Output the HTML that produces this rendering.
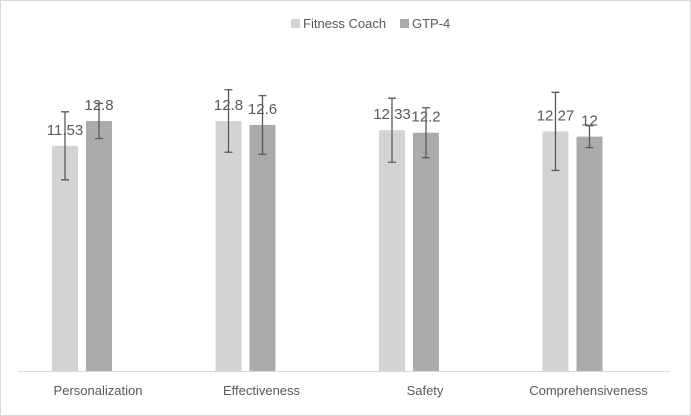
<!DOCTYPE html>
<html><head><meta charset="utf-8"><style>
body{margin:0;background:#fff;}
svg{display:block;font-family:"Liberation Sans",sans-serif;}
</style></head><body>
<svg width="691" height="416">
<rect x="0.5" y="0.5" width="690" height="415" fill="#fff" stroke="#d9d9d9"/>
<g>
<rect x="291" y="19" width="9" height="9" fill="#d3d3d3"/>
<text x="303" y="28" font-size="13" fill="#595959">Fitness Coach</text>
<rect x="400" y="19" width="9" height="9" fill="#ababab"/>
<text x="412" y="28" font-size="13" fill="#595959">GTP-4</text>
</g>
<line x1="18" y1="371.5" x2="670" y2="371.5" stroke="#d9d9d9"/>
<g id="marks"></g>
</svg>
<script>
const categories=["Personalization","Effectiveness","Safety","Comprehensiveness"];
const coachValues=[11.53,12.8,12.33,12.27];
const gtpValues=[12.8,12.6,12.2,12];
const coachErr=[1.74,1.6,1.64,2.0];
const gtpErr=[0.9,1.5,1.28,0.56];
const labelsCoach=["11.53","12.8","12.33","12.27"];
const labelsGtp=["12.8","12.6","12.2","12"];
const NS="http://www.w3.org/2000/svg";
const g=document.getElementById('marks');
const y=v=>371-v*19.53;
const cx=i=>82+i*163.5;
function mk(t,a){const e=document.createElementNS(NS,t);for(const k in a)e.setAttribute(k,a[k]);g.appendChild(e);return e;}
categories.forEach((c,i)=>{
 const series=[[coachValues,coachErr,labelsCoach,"#d3d3d3",-30,"coach"],[gtpValues,gtpErr,labelsGtp,"#ababab",4,"gtp4"]];
 series.forEach(s=>{
  const v=s[0][i],x=cx(i)+s[4];
  const b=mk('rect',{x:x,y:y(v),width:26,height:371-y(v),fill:s[3]});
  
  
  const mx=x+13,t=y(v+s[1][i]),bt=y(v-s[1][i]);
  const eb=mk('path',{d:`M${mx},${t}V${bt}M${mx-4},${t}H${mx+4}M${mx-4},${bt}H${mx+4}`,stroke:'#595959','stroke-width':1.3,fill:'none'});
  
  
  const tx=mk('text',{x:mx,y:y(v)-11,'font-size':15,fill:'#595959','text-anchor':'middle'});
  tx.textContent=s[2][i];
  
  
 });
 const l=mk('text',{x:cx(i)+16,y:395,'font-size':13,fill:'#595959','text-anchor':'middle'});
 l.textContent=c;
 
 
});
</script>
</body></html>
